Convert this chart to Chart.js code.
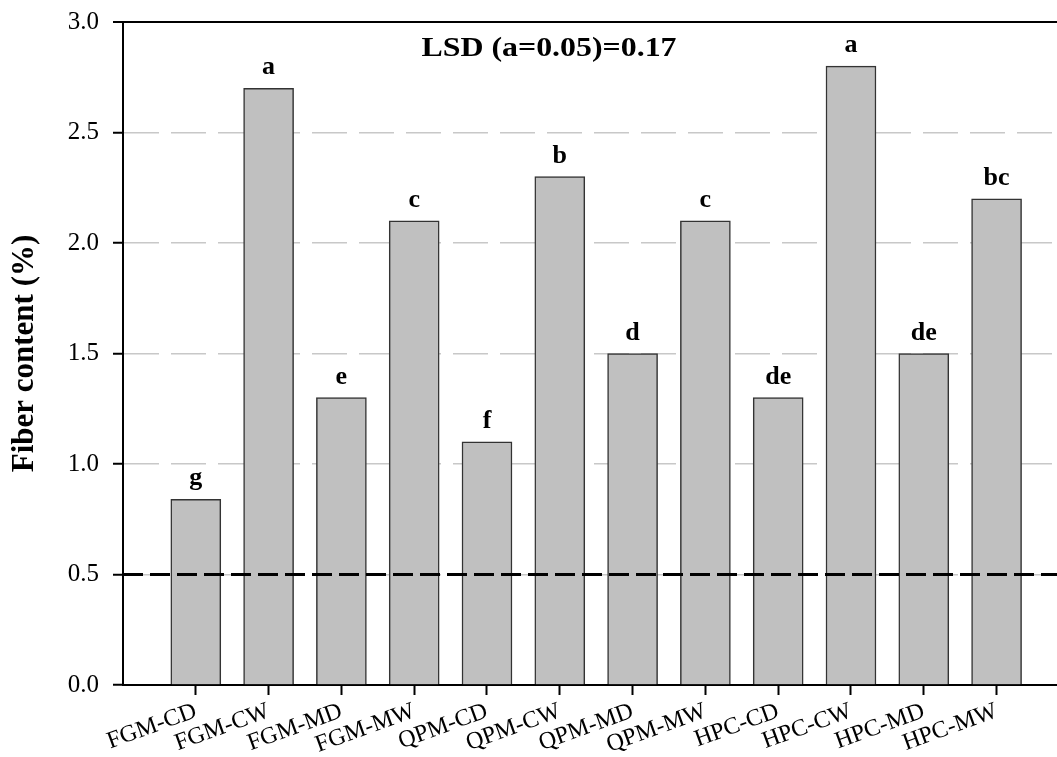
<!DOCTYPE html>
<html><head><meta charset="utf-8">
<script src="https://cdn.jsdelivr.net/npm/chart.js@4.4.1/dist/chart.umd.min.js"></script>
<style>html,body{margin:0;padding:0;background:#fff;overflow:hidden}#wrap{width:1057px;height:757px;position:relative}</style>
</head><body><div id="wrap"><canvas id="c" width="1057" height="757"></canvas></div>
<script>
const categories = ['FGM-CD','FGM-CW','FGM-MD','FGM-MW','QPM-CD','QPM-CW','QPM-MD','QPM-MW','HPC-CD','HPC-CW','HPC-MD','HPC-MW'];
const fiberValues = [0.84, 2.7, 1.3, 2.1, 1.1, 2.3, 1.5, 2.1, 1.3, 2.8, 1.5, 2.2];
const letters = ['g','a','e','c','f','b','d','c','de','a','de','bc'];
const yTickValues = [0, 0.5, 1.0, 1.5, 2.0, 2.5, 3.0];
const referenceLine = 0.5;
const lsdText = 'LSD (a=0.05)=0.17';
const yTitle = 'Fiber content (%)';

const SERIF = "'Liberation Serif', 'Times New Roman', serif";

const overlay = {
  id: 'overlay',
  afterDatasetsDraw(chart) {
    const ctx = chart.ctx, ca = chart.chartArea;
    const ys = chart.scales.y;
    ctx.save();
    // reference dashed line
    const yr = ys.getPixelForValue(referenceLine);
    ctx.strokeStyle = '#000';
    ctx.lineWidth = 3;
    ctx.setLineDash([20, 7]);
    ctx.beginPath();
    ctx.moveTo(ca.left, yr);
    ctx.lineTo(ca.right, yr);
    ctx.stroke();
    ctx.setLineDash([]);
    // letters
    ctx.fillStyle = '#000';
    ctx.font = 'bold 26px ' + SERIF;
    ctx.textAlign = 'center';
    ctx.textBaseline = 'alphabetic';
    const meta = chart.getDatasetMeta(0);
    meta.data.forEach((bar, i) => {
      ctx.fillText(letters[i], bar.x, bar.y - 14);
    });
    // LSD text
    ctx.font = 'bold 28px ' + SERIF;
    const w = ctx.measureText(lsdText).width;
    const sx = 255 / w;
    ctx.translate(ca.left + 426, ca.top + 34);
    ctx.scale(sx, 1);
    ctx.fillText(lsdText, 0, 0);
    ctx.restore();
  }
};

new Chart(document.getElementById('c'), {
  type: 'bar',
  data: {
    datasets: [{
      data: fiberValues.map((v, i) => ({ x: i + 1, y: v })),
      backgroundColor: '#c0c0c0',
      borderColor: '#333',
      borderWidth: 1.5,
      borderSkipped: 'bottom',
      barThickness: 50
    }]
  },
  options: {
    responsive: false,
    animation: false,
    devicePixelRatio: 1,
    layout: { padding: { top: 22, right: 0, left: 0, bottom: 0 } },
    plugins: { legend: { display: false }, tooltip: { enabled: false } },
    scales: {
      x: {
        type: 'linear',
        offset: false,
        min: 0,
        max: 12.83,
        afterBuildTicks(scale) { scale.ticks = categories.map((_, i) => ({ value: i + 1 })); },
        afterFit(scale) { scale.height = 72; scale.paddingLeft = 0; scale.paddingRight = 0; },
        ticks: {
          callback: (v) => categories[v - 1] || '',
          font: { family: SERIF, size: 24 },
          color: '#000',
          minRotation: 20,
          maxRotation: 20,
          padding: 2,
          autoSkip: false
        },
        grid: { offset: false, drawOnChartArea: false, drawTicks: true, tickLength: 10, tickColor: '#000', tickWidth: 2 },
        border: { display: true, color: '#000', width: 2 }
      },
      y: {
        min: 0,
        max: 3,
        afterBuildTicks(scale) { scale.ticks = yTickValues.map(v => ({ value: v })); },
        afterFit(scale) { scale.width = 123; scale.paddingTop = 0; scale.paddingBottom = 0; },
        ticks: {
          callback: (v) => Number(v).toFixed(1),
          font: { family: SERIF, size: 25 },
          color: '#000',
          padding: 14
        },
        grid: {
          color: (c) => {
            const v = c.tick ? c.tick.value : null;
            if (v === 3) return '#000';
            if (v === 0) return 'rgba(0,0,0,0)';
            return '#c8c8c8';
          },
          lineWidth: (c) => (c.tick && c.tick.value === 3) ? 2 : 1.5,
          drawTicks: true,
          tickLength: 10,
          tickColor: '#000',
          tickWidth: 2
        },
        border: {
          display: true, color: '#000', width: 2,
          dash: (c) => (c.tick && c.tick.value === 3) ? [] : [35, 12]
        },
        title: {
          display: true,
          text: yTitle,
          font: { family: SERIF, size: 31, weight: 'bold' },
          color: '#000',
          padding: { top: 6, bottom: 0 }
        }
      }
    }
  },
  plugins: [overlay]
});
</script>
</body></html>
